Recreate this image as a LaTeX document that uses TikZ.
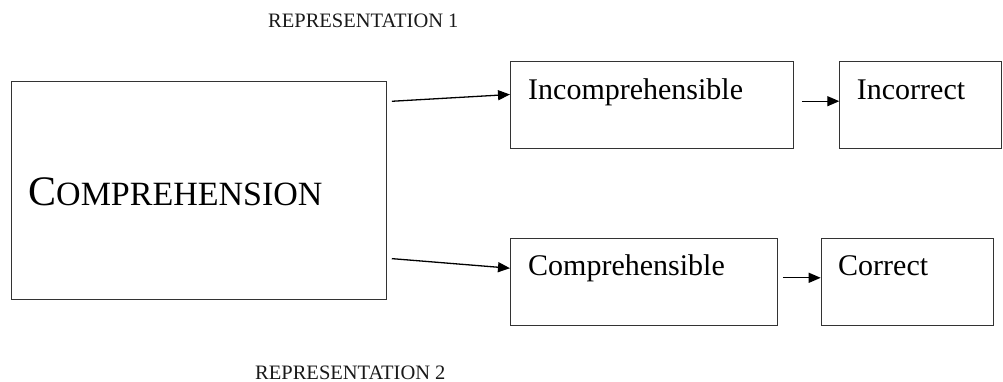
\documentclass[tikz,border=0pt]{standalone}
\usepackage{fontspec}
\setmainfont{Liberation Serif}
\usetikzlibrary{arrows.meta}
\begin{document}
\begin{tikzpicture}[x=1pt,y=-1pt,
  box/.style={draw=black!80,line width=1.1pt,inner sep=0pt,anchor=north west},
  lbl/.style={inner sep=0pt,anchor=base west,font=\fontsize{30}{36}\selectfont},
  replbl/.style={inner sep=0pt,anchor=base west,font=\fontsize{20.5}{24}\selectfont,text=black!90},
  arr/.style={line width=1.3pt,-{Triangle[length=12pt,width=10pt]}}]
\useasboundingbox (0,0) rectangle (1003,382);
\node[box,minimum width=375pt,minimum height=218pt] (big) at (11,81) {};
\node[box,minimum width=282.7pt,minimum height=87.3pt] (inc) at (510,61) {};
\node[box,minimum width=161.7pt,minimum height=87.3pt] (incor) at (839.3,61) {};
\node[box,minimum width=266.7pt,minimum height=86.7pt] (comp) at (510,238.3) {};
\node[box,minimum width=172.6pt,minimum height=86.7pt] (cor) at (820.7,238.3) {};
\node[inner sep=0pt,anchor=base west] (bigt) at (28,205.7) {\fontsize{42}{48}\selectfont C\fontsize{34}{40}\selectfont OMPREHENSION};
\node[lbl] (inct) at (528,100) {Incomprehensible};
\node[lbl] (incort) at (856.7,100) {Incorrect};
\node[lbl] (compt) at (528,275.7) {Comprehensible};
\node[lbl] (cort) at (838,275.7) {Correct};
\node[replbl] (rep1) at (268,28) {REPRESENTATION 1};
\node[replbl] (rep2) at (255,379) {REPRESENTATION 2};
\draw[arr,shorten <=4.7pt] ([yshift=89pt]big.east) -- ([yshift=10.7pt]inc.west);
\draw[arr,shorten <=4.7pt] ([yshift=-67.7pt]big.east) -- ([yshift=14pt]comp.west);
\draw[arr,shorten <=8pt] ([yshift=4pt]inc.east) -- ([yshift=4pt]incor.west);
\draw[arr,shorten <=5pt] ([yshift=4.4pt]comp.east) -- ([yshift=4.4pt]cor.west);
\end{tikzpicture}
\end{document}
